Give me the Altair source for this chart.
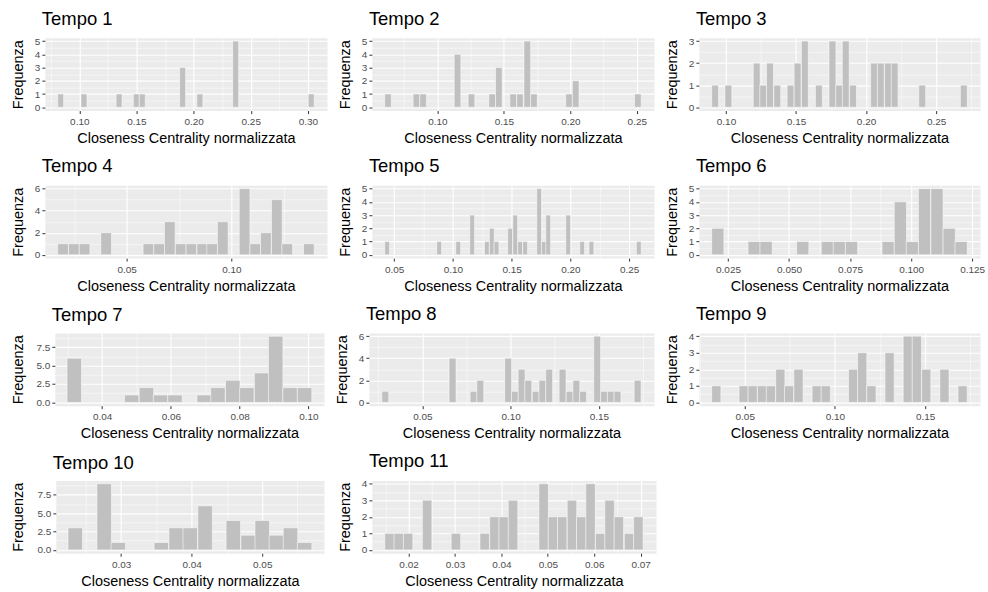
import math
import altair as alt
import pandas as pd

# ---------------- data: bin centres and counts per period ----------------
t1_x = [0.0837, 0.1041, 0.1348, 0.1499, 0.1551, 0.1904, 0.2055, 0.2368, 0.3029]
t1_n = [1, 1, 1, 1, 1, 3, 1, 5, 1]

t2_x = [0.0628, 0.0842, 0.0892, 0.1151, 0.1256, 0.1412, 0.1462, 0.1570, 0.1621,
        0.1676, 0.1726, 0.1990, 0.2040, 0.2508]
t2_n = [1, 1, 1, 4, 1, 1, 3, 1, 1, 5, 1, 1, 2, 1]

t3_x = [0.0922, 0.1017, 0.1219, 0.1266, 0.1314, 0.1366, 0.1461, 0.1511, 0.1563,
        0.1663, 0.1760, 0.1808, 0.1855, 0.1907, 0.2057, 0.2105, 0.2157, 0.2204,
        0.2401, 0.2698]
t3_n = [1, 1, 2, 1, 2, 1, 1, 2, 3, 1, 3, 1, 3, 1, 2, 2, 2, 2, 1, 1]

t4_x = [0.0196, 0.0248, 0.0299, 0.0402, 0.0604, 0.0655, 0.0706, 0.0758, 0.0809,
        0.0861, 0.0908, 0.0959, 0.1063, 0.1114, 0.1165, 0.1217, 0.1267, 0.1370]
t4_n = [1, 1, 1, 2, 1, 1, 3, 1, 1, 1, 1, 3, 6, 1, 2, 5, 1, 1]

t5_x = [0.0440, 0.0883, 0.1045, 0.1164, 0.1289, 0.1331, 0.1371, 0.1487, 0.1530,
        0.1572, 0.1615, 0.1734, 0.1774, 0.1811, 0.1981, 0.2100, 0.2179, 0.2582]
t5_n = [1, 1, 1, 3, 1, 2, 1, 2, 3, 1, 1, 5, 1, 3, 3, 1, 1, 1]

t6_x = [0.0208, 0.0357, 0.0406, 0.0556, 0.0657, 0.0706, 0.0756, 0.0906, 0.0956,
        0.1005, 0.1055, 0.1106, 0.1156, 0.1205]
t6_n = [2, 1, 1, 1, 1, 1, 1, 1, 4, 1, 5, 5, 2, 1]

t7_x = [0.0319, 0.0486, 0.0529, 0.0570, 0.0612, 0.0697, 0.0737, 0.0780, 0.0821,
        0.0864, 0.0905, 0.0947, 0.0989]
t7_n = [6, 1, 2, 1, 1, 1, 2, 3, 2, 4, 9, 2, 2]

t8_x = [0.0290, 0.0671, 0.0790, 0.0828, 0.0986, 0.1024, 0.1062, 0.1100, 0.1142,
        0.1180, 0.1218, 0.1294, 0.1334, 0.1372, 0.1410, 0.1490, 0.1529, 0.1567,
        0.1605, 0.1719]
t8_n = [1, 4, 1, 2, 4, 1, 3, 2, 1, 2, 3, 3, 1, 2, 1, 6, 1, 1, 1, 2]

t9_x = [0.0342, 0.0494, 0.0544, 0.0596, 0.0645, 0.0697, 0.0746, 0.0798, 0.0899,
        0.0949, 0.1101, 0.1151, 0.1202, 0.1303, 0.1404, 0.1454, 0.1506, 0.1607,
        0.1708]
t9_n = [1, 1, 1, 1, 1, 2, 1, 2, 1, 1, 2, 3, 1, 3, 4, 4, 2, 2, 1]

t10_x = [0.0235, 0.0276, 0.0296, 0.0357, 0.0378, 0.0398, 0.0419, 0.0459, 0.0480,
         0.0500, 0.0520, 0.0540, 0.0560]
t10_n = [3, 9, 1, 1, 3, 3, 6, 4, 2, 4, 2, 3, 1]

t11_x = [0.0159, 0.0179, 0.0199, 0.0240, 0.0302, 0.0364, 0.0385, 0.0405, 0.0425,
         0.0491, 0.0511, 0.0531, 0.0552, 0.0572, 0.0592, 0.0613, 0.0633, 0.0653,
         0.0675, 0.0695]
t11_n = [1, 1, 1, 3, 1, 1, 2, 2, 3, 4, 2, 2, 3, 2, 4, 1, 3, 2, 1, 2]

PANELS = [(t1_x, t1_n), (t2_x, t2_n), (t3_x, t3_n), (t4_x, t4_n), (t5_x, t5_n),
          (t6_x, t6_n), (t7_x, t7_n), (t8_x, t8_n), (t9_x, t9_n), (t10_x, t10_n),
          (t11_x, t11_n)]
BIN_W = [0.0052, 0.0050, 0.0049, 0.0051, 0.0041, 0.0050, 0.0042, 0.0039, 0.0051,
         0.00205, 0.00204]
X_STEP = [0.05, 0.05, 0.05, 0.05, 0.05, 0.025, 0.02, 0.05, 0.05, 0.01, 0.01]
X_FMT = [".2f", ".2f", ".2f", ".2f", ".2f", ".3f", ".2f", ".2f", ".2f", ".2f", ".2f"]
Y_STEP = [1, 1, 1, 2, 1, 1, 2.5, 2, 1, 2.5, 1]
Y_FMT = ["d", "d", "d", "d", "d", "d", ".1f", "d", "d", ".1f", "d"]

XTITLE = "Closeness Centrality normalizzata"
YTITLE = "Frequenza"
FONT = "Liberation Sans"
PANEL_H = 73


def tick_values(lo, hi, step):
    half = step / 2
    k0 = math.ceil(lo / half - 1e-9)
    k1 = math.floor(hi / half + 1e-9)
    return [round(k * half, 10) for k in range(k0, k1 + 1)]


def make_axis(vals, step, fmt, title, **extra):
    test = f"abs(datum.value / {step} - round(datum.value / {step})) < 1e-6"
    return alt.Axis(
        values=vals,
        title=title,
        labelExpr=f"({test}) ? format(datum.value, '{fmt}') : ''",
        labelOverlap=False,
        labelFlush=False,
        gridColor="white",
        gridWidth={"condition": {"test": test, "value": 1.1}, "value": 0.5},
        tickOpacity={"condition": {"test": test, "value": 1}, "value": 0},
        **extra,
    )


def panel(idx, width, y_extent=16):
    xs, ns = PANELS[idx]
    w = BIN_W[idx]
    lo, hi = min(xs) - w / 2, max(xs) + w / 2
    ex = 0.05 * (hi - lo)
    xdom = [lo - ex, hi + ex]
    ymax = max(ns)
    ydom = [-0.05 * ymax, 1.05 * ymax]
    df = pd.DataFrame({
        "x0": [x - w / 2 for x in xs],
        "x1": [x + w / 2 for x in xs],
        "n": ns,
        "z": [0] * len(ns),
    })
    xaxis = make_axis(tick_values(xdom[0], xdom[1], X_STEP[idx]), X_STEP[idx], X_FMT[idx], XTITLE)
    yaxis = make_axis(tick_values(ydom[0], ydom[1], Y_STEP[idx]), Y_STEP[idx], Y_FMT[idx], YTITLE,
                      minExtent=y_extent, maxExtent=y_extent)
    return alt.Chart(df, title=alt.Title(f"Tempo {idx + 1}")).mark_rect(
        fill="#C0C0C0", stroke="white", strokeWidth=0.5
    ).encode(
        x=alt.X("x0:Q", scale=alt.Scale(domain=xdom, nice=False, zero=False), axis=xaxis),
        x2="x1:Q",
        y=alt.Y("n:Q", scale=alt.Scale(domain=ydom, nice=False, zero=False), axis=yaxis),
        y2="z:Q",
    ).properties(
        width=width, height=PANEL_H,
        view=alt.ViewBackground(fill="#EBEBEB", stroke="transparent"),
    )


def spacer(width):
    return alt.Chart(pd.DataFrame({"a": [0]})).mark_point(opacity=0).encode(
        x=alt.X("a:Q", axis=None), y=alt.Y("a:Q", axis=None)
    ).properties(width=width, height=PANEL_H)


row1 = alt.hconcat(panel(0, 283), panel(1, 283), panel(2, 282), spacing=45, bounds="flush")
row2 = alt.hconcat(panel(3, 283), panel(4, 283), panel(5, 282), spacing=45, bounds="flush")
row3 = alt.hconcat(
    spacer(10),
    alt.hconcat(panel(6, 270, 26), panel(7, 286), panel(8, 282), spacing=45, bounds="flush"),
    spacing=0, bounds="flush",
)
row4 = alt.hconcat(
    spacer(11),
    alt.hconcat(panel(9, 269, 27), panel(10, 285), spacing=48, bounds="flush"),
    spacing=0, bounds="flush",
)

# nested concat groups have no own height in "flush" mode, so the spacing is the row stride
chart = alt.vconcat(row1, row2, row3, row4, spacing=148, bounds="flush").properties(
    padding={"left": 10, "top": 8, "right": 2, "bottom": 2},
    background="white",
).configure_view(
    stroke="transparent"
).configure_axis(
    labelFont=FONT, titleFont=FONT,
    labelFontSize=10, labelColor="#4D4D4D",
    titleFontSize=14.5, titleFontWeight="normal", titleColor="black",
    tickColor="#333333", tickSize=3, tickWidth=1,
    domain=False,
).configure_axisX(
    labelPadding=3, minExtent=17, maxExtent=17, titlePadding=4,
).configure_axisY(
    labelPadding=2, titlePadding=3,
).configure_title(
    font=FONT, fontSize=18.5, fontWeight="normal", color="black",
    anchor="start", frame="group", offset=8, dx=-3,
)

chart.save("out.html", embed_options={"renderer": "svg", "actions": False})
